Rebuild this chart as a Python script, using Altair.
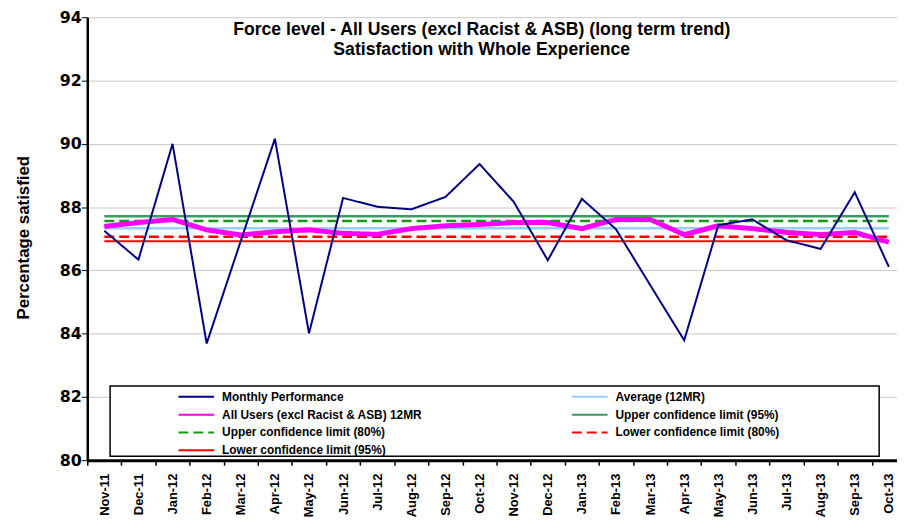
import altair as alt
import pandas as pd

months = ["Nov-11", "Dec-11", "Jan-12", "Feb-12", "Mar-12", "Apr-12", "May-12", "Jun-12",
          "Jul-12", "Aug-12", "Sep-12", "Oct-12", "Nov-12", "Dec-12", "Jan-13", "Feb-13",
          "Mar-13", "Apr-13", "May-13", "Jun-13", "Jul-13", "Aug-13", "Sep-13", "Oct-13"]
monthly = [87.25, 86.34, 90.00, 83.69, 86.93, 90.16, 84.01, 88.29, 88.01, 87.93, 88.32, 89.36,
           88.17, 86.32, 88.26, 87.30, 85.54, 83.79, 87.43, 87.61, 86.95, 86.68, 88.47, 86.11]
rolling_12mr = [87.39, 87.51, 87.61, 87.28, 87.12, 87.22, 87.28, 87.17, 87.14, 87.32, 87.41, 87.45,
                87.51, 87.51, 87.32, 87.61, 87.61, 87.13, 87.41, 87.32, 87.20, 87.13, 87.20, 86.89]
average_12mr = 87.33
ucl_95 = 87.71
ucl_80 = 87.56
lcl_80 = 87.06
lcl_95 = 86.92

series_names = ["Monthly Performance", "Average (12MR)", "All Users (excl Racist & ASB) 12MR",
                "Upper confidence limit (95%)", "Upper confidence limit (80%)",
                "Lower confidence limit (80%)", "Lower confidence limit (95%)"]
series_colors = ["#000080", "#99CCFF", "#FF00FF", "#3A9A64", "#139913", "#FF0000", "#FF0000"]
series_dashes = [[1, 0], [1, 0], [1, 0], [1, 0], [10, 5], [10, 5], [1, 0]]
series_widths = [2, 2.5, 5, 2.5, 2.5, 2.5, 2]

title_lines = ["Force level - All Users (excl Racist & ASB) (long term trend)",
               "Satisfaction with Whole Experience"]
y_title = "Percentage satisfied"
y_ticks = [80, 82, 84, 86, 88, 90, 92, 94]

series_values = {
    "Monthly Performance": monthly,
    "Average (12MR)": [average_12mr] * len(months),
    "All Users (excl Racist & ASB) 12MR": rolling_12mr,
    "Upper confidence limit (95%)": [ucl_95] * len(months),
    "Upper confidence limit (80%)": [ucl_80] * len(months),
    "Lower confidence limit (80%)": [lcl_80] * len(months),
    "Lower confidence limit (95%)": [lcl_95] * len(months),
}
width_of = dict(zip(series_names, series_widths))
rows = []
for name, vals in series_values.items():
    for m, v in zip(months, vals):
        rows.append({"month": m, "series": name, "value": v})
df = pd.DataFrame(rows)

FONT = "Liberation Sans"

xscale = alt.Scale(type="band", range=[0, 826], paddingInner=0, paddingOuter=0)
yscale = alt.Scale(domain=[80, 94], nice=False, zero=False)
xaxis = alt.Axis(title=None, labelAngle=-90, labelFont=FONT, labelFontWeight="bold", labelFontSize=13,
                 labelColor="black", labelPadding=8, labelAlign="right", labelBaseline="middle",
                 labelOverlap=False, tickBand="extent", tickSize=5, tickColor="black", tickWidth=1.5,
                 domainColor="black", domainWidth=3, grid=False)
yaxis = alt.Axis(values=y_ticks, grid=True, gridColor="#C8C8C8", gridWidth=1,
                 domainColor="black", domainWidth=2.5, tickColor="black", tickSize=6, tickWidth=1,
                 labelFont="DejaVu Sans", labelFontWeight="bold", labelFontSize=16, labelColor="black",
                 labelPadding=0, title=y_title, titleFont=FONT, titleFontWeight="bold", titleFontSize=17,
                 titleColor="black", titleX=-64, titleY=222, titleAngle=270, titleAlign="center",
                 titleBaseline="middle")
legend = alt.Legend(title=None, orient="none", direction="horizontal", legendX=104, legendY=377,
                    columns=2, symbolType="M-3.6,0H3.6", symbolSize=100, symbolStrokeWidth=2,
                    labelFont=FONT, labelFontWeight="bold", labelFontSize=12, labelColor="black",
                    rowPadding=6, columnPadding=146, labelOffset=20, padding=0, labelLimit=400)


def line_layer(name):
    return alt.Chart(df).transform_filter(alt.datum.series == name).mark_line(
        strokeWidth=width_of[name]
    ).encode(
        x=alt.X("month:N", sort=months, scale=xscale, axis=xaxis, bandPosition=0.5),
        y=alt.Y("value:Q", scale=yscale, axis=yaxis),
        color=alt.Color("series:N", scale=alt.Scale(domain=series_names, range=series_colors), legend=legend),
        strokeDash=alt.StrokeDash("series:N", scale=alt.Scale(domain=series_names, range=series_dashes), legend=legend),
    )


draw_order = ["Lower confidence limit (95%)", "Lower confidence limit (80%)",
              "Upper confidence limit (80%)", "Upper confidence limit (95%)",
              "Average (12MR)", "All Users (excl Racist & ASB) 12MR", "Monthly Performance"]
lines = [line_layer(n) for n in draw_order]

box = alt.Chart(pd.DataFrame({"a": [0]})).mark_rect(fill="white", stroke="black", strokeWidth=1.5).encode(
    x=alt.value(23), x2=alt.value(799), y=alt.value(372), y2=alt.value(443))

t1 = alt.Chart(pd.DataFrame({"t": [title_lines[0]]})).mark_text(
    font=FONT, fontWeight="bold", fontSize=17.8, align="center", baseline="alphabetic", color="black"
).encode(text="t:N", x=alt.value(398), y=alt.value(18))
t2 = alt.Chart(pd.DataFrame({"t": [title_lines[1]]})).mark_text(
    font=FONT, fontWeight="bold", fontSize=17.8, align="center", baseline="alphabetic", color="black"
).encode(text="t:N", x=alt.value(398), y=alt.value(38))

chart = alt.layer(box, *lines, t1, t2).properties(
    width=817, height=447,
    autosize=alt.AutoSizeParams(type="none"),
    padding={"left": 80, "top": 7, "right": 0, "bottom": 60},
).configure_view(strokeWidth=0)

chart.save("out.html", embed_options={"renderer": "svg", "actions": False})
